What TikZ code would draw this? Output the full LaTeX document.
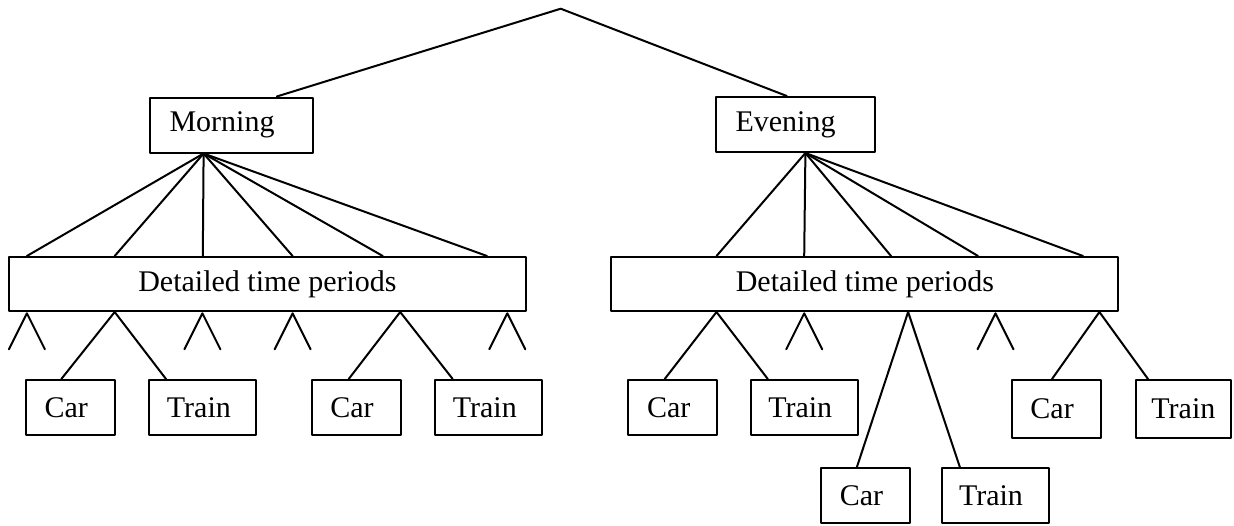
\documentclass[tikz,border=0pt]{standalone}
\usepackage{fontspec}
\setmainfont{Liberation Serif}
\usetikzlibrary{positioning}

\begin{document}
\begin{tikzpicture}[line cap=round,line join=round, x=0.5pt,y=-0.5pt,
  box/.style={draw, line width=1pt, inner sep=0pt, minimum height=27.5pt, font=\fontsize{15}{18}\selectfont},
  carbox/.style={box, minimum width=44.5pt},
  trainbox/.style={box, minimum width=53.5pt},
  link/.style={line width=1pt}]
\useasboundingbox (0,0) rectangle (1234,525);
\coordinate (top) at (560.7,8.7);
\node [box, minimum width=81.5pt] (mor) at (231,125) {Morning\kern9pt};
\node [box, minimum width=79.5pt] (eve) at (795.5,124.5) {Evening\kern10pt};
\node [box, minimum width=258.5pt, minimum height=27pt] (dtpL) at (267.4,284) {Detailed time periods};
\node [box, minimum width=253.5pt, minimum height=27pt] (dtpR) at (864.9,284) {Detailed time periods};
\node [carbox] (carA) at (70.2,407.5) {Car\kern4pt};
\node [trainbox] (trainA) at (202.9,407.5) {Train\kern4pt};
\node [carbox] (carB) at (356,407.5) {Car\kern4pt};
\node [trainbox] (trainB) at (488.8,407.5) {Train\kern4pt};
\node [carbox] (carC) at (672.8,407.5) {Car\kern4pt};
\node [trainbox] (trainC) at (804.2,407.5) {Train\kern4pt};
\node [carbox] (carD) at (865.5,495.8) {Car\kern4pt};
\node [trainbox] (trainD) at (995,495.8) {Train\kern4pt};
\node [carbox, minimum height=29pt] (carE) at (1056.1,409) {Car\kern4pt};
\node [box, minimum width=47.5pt, minimum height=29pt] (trainE) at (1183.4,409) {Train};
\draw [link] (top) -- (276.8,0 |- mor.north);
\draw [link] (top) -- (786.8,0 |- eve.north);
\foreach \x in {26.9,114.7,202.8,292.6,382.8,487}
  \draw [link] (203.6,0 |- mor.south) -- (\x,0 |- dtpL.north);
\foreach \x in {716.5,804.2,891,978,1083}
  \draw [link] (805.4,0 |- eve.south) -- (\x,0 |- dtpR.north);
\draw [link] (61.3,0 |- carA.north) -- (114.7,0 |- dtpL.south) -- (166,0 |- trainA.north);
\draw [link] (348.7,0 |- carB.north) -- (400.2,0 |- dtpL.south) -- (452.7,0 |- trainB.north);
\draw [link] (664.7,0 |- carC.north) -- (716.5,0 |- dtpR.south) -- (767.8,0 |- trainC.north);
\draw [link] (856.8,0 |- carD.north) -- (908.1,0 |- dtpR.south) -- (959.9,0 |- trainD.north);
\draw [link] (1052,0 |- carE.north) -- (1099.4,0 |- dtpR.south) -- (1148,0 |- trainE.north);
\foreach \x in {26.9,202.4,292.6,507.3,804.2,995.5}
  \draw [link] (\x-18,349.3) -- (\x,313.3) -- (\x+18,349.3);
\end{tikzpicture}
\end{document}
